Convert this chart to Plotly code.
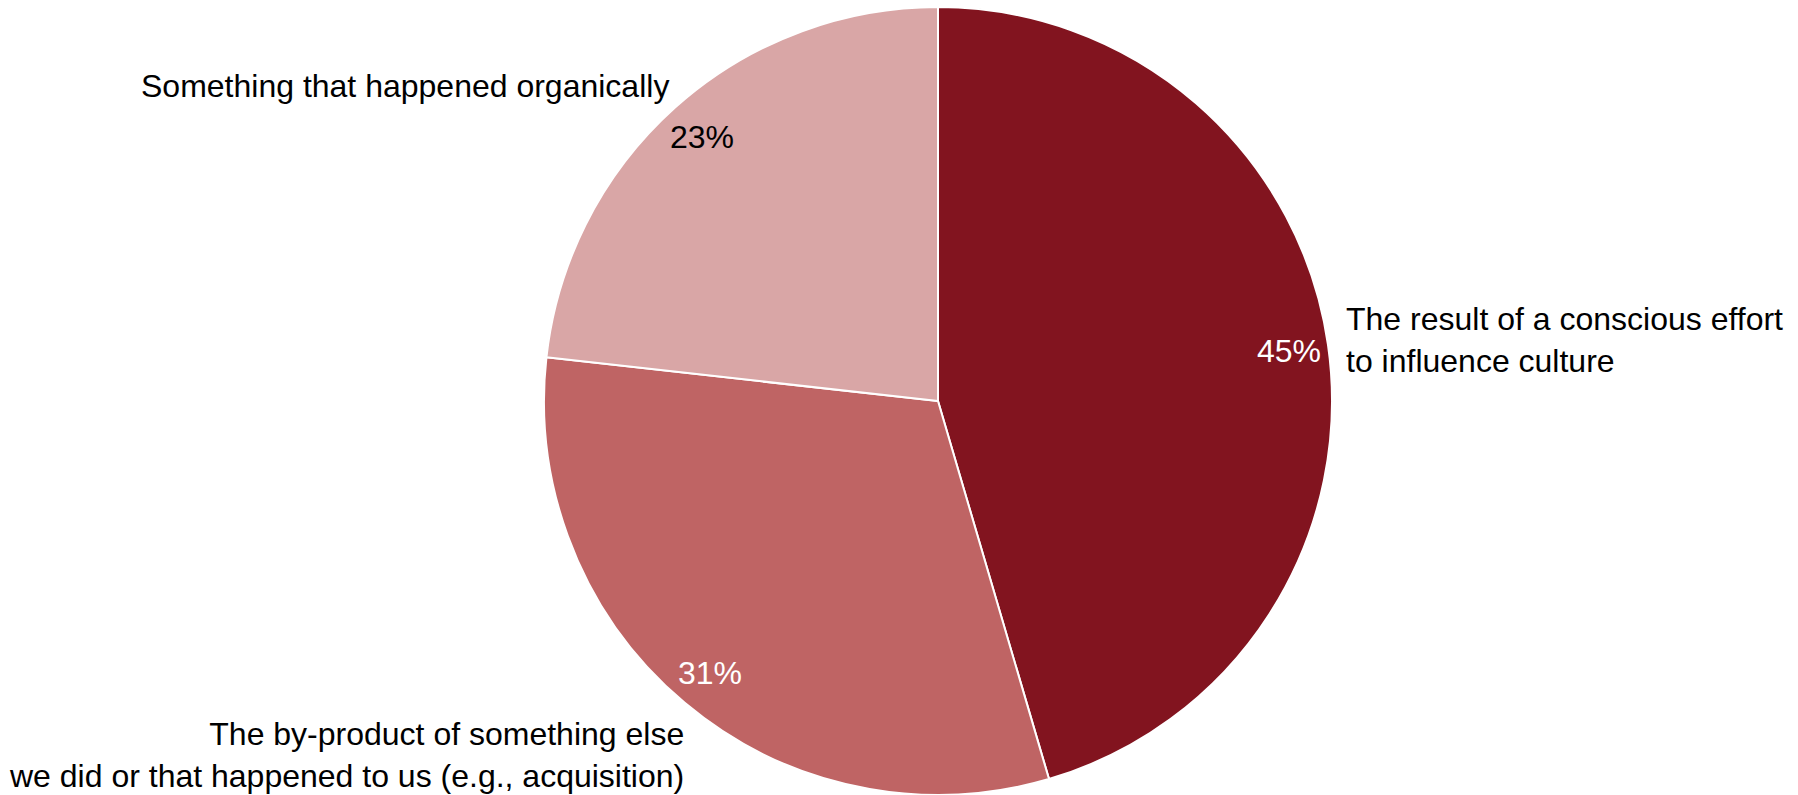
import math
import plotly.graph_objects as go

# Survey answers: how the current culture came about
categories = [
    "The result of a conscious effort<br>to influence culture",
    "The by-product of something else<br>we did or that happened to us (e.g., acquisition)",
    "Something that happened organically",
]
shares = [45, 31, 23]
slice_colors = ["#82141f", "#bf6464", "#d9a6a6"]
pct_colors = ["white", "white", "black"]

W, H = 1798, 795
M_T, M_B = 7, 0
FONT = "Liberation Sans, Arial, sans-serif"
FS = 32

# pie placement (paper domain)
cx_px = 938
plot_h = H - M_T - M_B
R = plot_h / 2
dom_x = [(cx_px - R - 2) / W, (cx_px + R + 2) / W]

fig = go.Figure(
    go.Pie(
        values=shares,
        labels=[c.replace("<br>", " ") for c in categories],
        marker=dict(colors=slice_colors, line=dict(color="white", width=2)),
        sort=False,
        direction="clockwise",
        rotation=0,
        textinfo="none",
        hoverinfo="label+value",
        domain=dict(x=dom_x, y=[0, 1]),
        showlegend=False,
    )
)

cy_px = M_T + R


def to_paper(px, py):
    return px / W, (H - M_B - py) / plot_h


# percentage labels, placed near the rim along each slice's mid-angle
total = sum(shares)
cum = 0
annotations = []
for v, col in zip(shares, pct_colors):
    mid = (cum + v / 2) / total * 2 * math.pi
    cum += v
    r = 0.9 * R
    px = cx_px + r * math.sin(mid)
    py = cy_px - r * math.cos(mid)
    x, y = to_paper(px, py)
    annotations.append(dict(
        x=x, y=y, xref="paper", yref="paper", text=f"{v}%", showarrow=False,
        xanchor="center", yanchor="middle",
        font=dict(family=FONT, size=FS, color=col),
    ))

# category labels outside the pie
label_anchor = [
    (1344, 340, "left"),
    (686, 755, "right"),
    (671, 86, "right"),
]
for text, (px, py, side) in zip(categories, label_anchor):
    x, y = to_paper(px, py)
    annotations.append(dict(
        x=x, y=y, xref="paper", yref="paper", text=text, showarrow=False,
        xanchor=side, yanchor="middle", align=side,
        font=dict(family=FONT, size=FS, color="black"),
    ))

fig.update_layout(
    width=W, height=H,
    margin=dict(l=0, r=0, t=M_T, b=M_B),
    paper_bgcolor="white",
    plot_bgcolor="white",
    annotations=annotations,
)

fig.write_html("out.html")
